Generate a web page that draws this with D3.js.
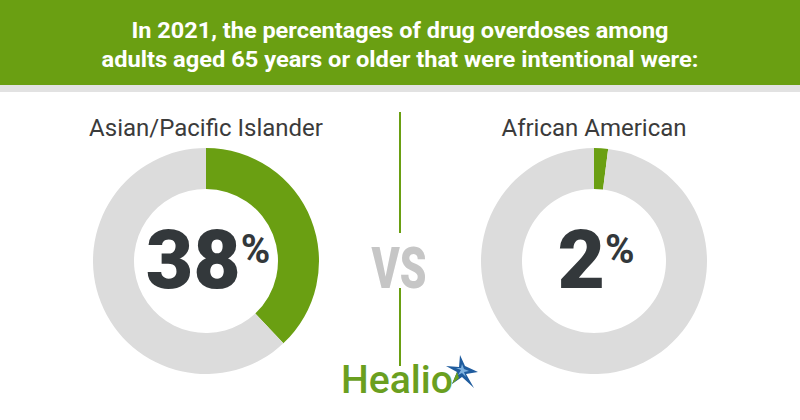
<!DOCTYPE html>
<html>
<head>
<meta charset="utf-8">
<script src="https://cdn.jsdelivr.net/npm/d3@7"></script>
<style>
  body { margin: 0; background: #fff; }
  svg { display: block; font-family: Roboto, "Noto Sans", sans-serif; }
</style>
</head>
<body>
<script>
// chart data
const titleLines = [
  "In 2021, the percentages of drug overdoses among",
  "adults aged 65 years or older that were intentional were:"
];
const groups = ["Asian/Pacific Islander", "African American"];
const percents = [38, 2];

const w = 800, h = 420;
const green = "#6a9f12";
const grey = "#dcdcdc";

const svg = d3.select("body").append("svg")
  .attr("width", w)
  .attr("height", h);

// header band
svg.append("rect").attr("x", 0).attr("y", 0).attr("width", w).attr("height", 92).attr("fill", "#e2e2e2");
svg.append("rect").attr("x", 0).attr("y", 0).attr("width", w).attr("height", 85).attr("fill", green);

const titleWidths = [537, 597];
svg.selectAll("text.title")
  .data(titleLines)
  .enter().append("text")
  .attr("class", "title")
  .attr("x", w / 2)
  .attr("y", (d, i) => 38 + i * 29)
  .attr("text-anchor", "middle")
  .attr("textLength", (d, i) => titleWidths[i])
  .attr("lengthAdjust", "spacingAndGlyphs")
  .style("font-size", "22.5px")
  .style("font-weight", 700)
  .style("fill", "#fff")
  .text(d => d);

// donut positions
const x = d3.scalePoint().domain(groups).range([206, 594]);
const cy = 261;
const rOuter = 113, rInner = 72;

const pie = d3.pie().sort(null).value(d => d);
const arc = d3.arc().innerRadius(rInner).outerRadius(rOuter);

const donuts = svg.selectAll("g.donut")
  .data(groups.map((g, i) => ({ name: g, pct: percents[i] })))
  .enter().append("g")
  .attr("class", "donut")
  .attr("transform", d => "translate(" + x(d.name) + "," + cy + ")");

donuts.selectAll("path")
  .data(d => pie([d.pct, 100 - d.pct]))
  .enter().append("path")
  .attr("d", arc)
  .attr("fill", (d, i) => i === 0 ? green : grey);

donuts.append("text")
  .attr("y", -125)
  .attr("text-anchor", "middle")
  .style("font-size", "24px")
  .style("fill", "#3b3b3b")
  .text(d => d.name);

const num = donuts.append("text")
  .attr("x", 2)
  .attr("y", 27)
  .attr("text-anchor", "middle")
  .style("fill", "#33383b")
  .style("font-weight", 900);
num.append("tspan")
  .style("font-size", "82px")
  .text(d => d.pct);
num.append("tspan")
  .attr("dy", -25)
  .style("font-size", "40px")
  .style("font-weight", 700)
  .text("%");

// divider with VS
svg.append("line").attr("x1", 400).attr("x2", 400).attr("y1", 112).attr("y2", 233)
  .attr("stroke", green).attr("stroke-width", 2);
svg.append("line").attr("x1", 400).attr("x2", 400).attr("y1", 288).attr("y2", 366)
  .attr("stroke", green).attr("stroke-width", 2);
svg.append("text")
  .attr("x", 399)
  .attr("y", 288)
  .attr("text-anchor", "middle")
  .attr("textLength", 55)
  .attr("lengthAdjust", "spacingAndGlyphs")
  .style("font-size", "58px")
  .style("font-weight", 900)
  .style("fill", "#c6c6c6")
  .text("VS");

// Healio logo
svg.append("text")
  .attr("x", 341)
  .attr("y", 393)
  .attr("textLength", 112)
  .attr("lengthAdjust", "spacingAndGlyphs")
  .style("font-size", "38px")
  .style("font-weight", 500)
  .style("fill", "#6a9f1f")
  .text("Healio");

const star = svg.append("g").attr("transform", "translate(463,370)");
star.append("path")
  .attr("d", "M-3,-15 L2,-4 L15,2 L3,4 L11,18 L-1,7 L-11,14 L-6,2 L-17,-4 L-4,-3 Z")
  .attr("fill", "#1f5c9e");
star.append("path")
  .attr("d", "M-1,-6 L1,-1 L6,1 L1,2 L3,7 L-1,3 L-5,5 L-2,0 L-7,-2 L-2,-2 Z")
  .attr("fill", "#7fb2e0");
star.append("path")
  .attr("d", "M-6,2 L-11,14 L-4,8 Z")
  .attr("fill", "#6a9f1f");
</script>
</body>
</html>
